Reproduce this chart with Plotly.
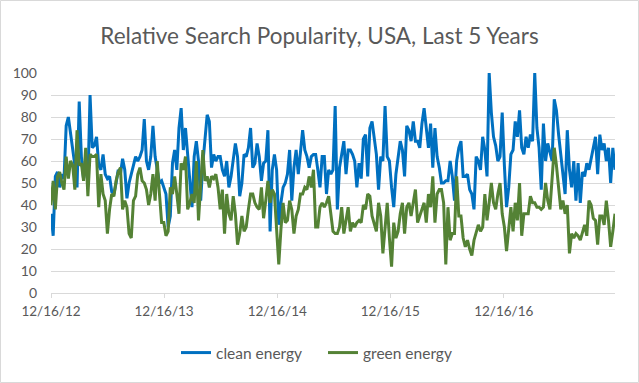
import datetime as dt
import plotly.graph_objects as go

start_date = "2012-12-16"
n_weeks = 261

clean_energy = [
    36, 26, 53, 55, 48, 54, 52, 76, 80, 73, 64, 58, 48, 87, 62, 52, 61, 50, 90, 66,
    67, 71, 58, 56, 63, 54, 52, 53, 46, 45, 50, 56, 54, 61, 56, 43, 50, 54, 59, 62,
    60, 62, 65, 79, 60, 56,
    62, 76, 62, 55, 50, 51, 48, 45, 30, 35, 59, 65, 56, 75, 84, 65, 75, 62, 50, 39,
    62, 69, 60, 42, 59, 72, 81, 78, 57, 63, 60, 62, 62, 56, 53, 60, 48, 53, 60, 68,
    62, 44, 50, 63, 62, 66, 75, 57,
    59, 68, 62, 51, 59, 60, 74, 28, 56, 63, 56, 31, 41, 48, 50, 54, 65, 42, 57, 65,
    54, 63, 74, 65, 62, 57, 62, 63, 63, 56, 48, 62, 62, 45, 56, 54, 56, 85, 38, 57,
    63, 69, 54, 65, 65, 63, 60, 48, 59,
    52, 70, 72, 53, 75, 78, 71, 63, 47, 62, 60, 85, 62, 60, 48, 39, 54,
    63, 69, 65, 53, 76, 74, 69, 78, 69, 69, 66, 77, 84, 74, 66, 77, 57, 75, 62, 57,
    50, 50, 51, 51, 60, 53, 42, 60, 66, 69,
    53, 53, 54, 47, 45, 38, 62, 60, 56, 71, 65, 53, 100, 82, 71, 67, 60, 62, 82, 58,
    39, 48, 63, 65, 78, 71, 83, 66, 63, 71, 66, 72, 69, 100, 75, 66, 47, 77, 60, 68,
    64, 60, 88, 83, 72, 62, 53, 45, 74, 56, 48, 60, 42, 59, 41, 55, 53, 59, 56, 62,
    66, 71, 54, 72, 65, 68, 60, 66, 50, 66, 56,
]

green_energy = [
    40, 51, 38, 53, 55, 50, 47, 62, 52, 60, 58, 47, 74, 58, 59, 51, 66, 44, 63, 62,
    62, 63, 39, 54, 45, 42, 27, 38, 45, 44, 51, 55, 57, 38, 42, 39, 27, 25, 42, 44,
    54, 57, 51,
    50, 47, 40, 45, 54, 42, 60, 45, 32, 32, 26, 28, 48, 45, 53, 45, 36,
    59, 56, 62, 38, 41, 45, 41, 60, 33, 48, 65, 51, 53, 48, 53, 52, 54, 48, 38, 47,
    27, 45, 36, 33, 44, 36, 22, 27, 35, 28, 30, 38,
    45, 45, 41, 39, 38, 48, 34, 42, 51, 41, 47, 45, 29, 13, 29, 41, 32, 33,
    42, 38, 27, 35, 38, 45, 45, 48, 47, 53, 48, 56, 30, 30, 39, 41, 39, 41, 44, 36,
    28, 27, 27, 30, 39, 27, 33, 39, 28, 32,
    30, 32, 33, 32, 40, 38, 45, 44, 35, 32, 28, 41, 35, 18, 30, 41, 25, 12, 32, 25,
    28, 36, 41, 27, 39, 41, 35, 42, 47, 32, 35, 38, 41, 32, 45, 39, 53, 32, 45, 47,
    47, 41, 13, 39, 24, 27, 27, 53, 35, 35,
    25, 21, 24, 20, 17, 24, 27, 31, 28, 30, 45, 33, 41, 50, 41, 38, 45, 50, 36, 30,
    19, 28, 39, 28, 41, 33, 50, 26, 36, 36, 36, 44, 41, 41, 39, 39, 38, 39, 50, 42,
    38, 52, 66, 58, 48, 38, 42, 36, 40, 18, 27, 25, 27, 26, 24, 28, 31, 26, 42, 40,
    34, 33, 22, 35, 35, 31, 42, 33, 21, 28, 36,
]

tick_dates = ["2012-12-16", "2013-12-16", "2014-12-16", "2015-12-16", "2016-12-16"]
tick_labels = ["12/16/12", "12/16/13", "12/16/14", "12/16/15", "12/16/16"]
y_ticks = list(range(0, 101, 10))

d0 = dt.date.fromisoformat(start_date)
dates = [d0 + dt.timedelta(weeks=i) for i in range(n_weeks)]

W, H = 639, 383
ML, MR, MT, MB = 51, 24, 73, 90
PW, PH = W - ML - MR, H - MT - MB

FONT = "Lato"
GRAY = "#595959"

fig = go.Figure()
fig.add_trace(go.Scatter(x=dates, y=clean_energy, mode="lines", name="clean energy",
                         line=dict(color="#0070C0", width=3)))
fig.add_trace(go.Scatter(x=dates, y=green_energy, mode="lines", name="green energy",
                         line=dict(color="#548235", width=3)))

fig.update_layout(
    width=W, height=H,
    margin=dict(l=ML, r=MR, t=MT, b=MB, autoexpand=False),
    paper_bgcolor="white", plot_bgcolor="white",
    font=dict(family=FONT, color=GRAY, size=13),
    title=dict(text="Relative Search Popularity, USA, Last 5 Years",
               x=0.5, xref="container", xanchor="center",
               y=1 - 36 / H, yref="container", yanchor="middle",
               font=dict(family=FONT, size=22.5, color=GRAY)),
    showlegend=True,
    legend=dict(orientation="h", x=176 / W, xref="container", xanchor="left",
                y=1 - 353 / H, yref="container", yanchor="middle",
                font=dict(family=FONT, size=15.5, color=GRAY),
                entrywidth=102, entrywidthmode="pixels", tracegroupgap=0),
    xaxis=dict(type="date", range=[dates[0], dates[-1]],
               tickvals=tick_dates, ticktext=tick_labels, automargin=False,
               showgrid=False, showline=True, linecolor="#d9d9d9", linewidth=1,
               ticks="outside", ticklen=4, tickcolor="#d9d9d9",
               ticklabelstandoff=2, zeroline=False,
               tickfont=dict(family=FONT, size=13.5, color=GRAY)),
    yaxis=dict(range=[0, 100], tickvals=y_ticks, showgrid=True, gridcolor="#d9d9d9",
               gridwidth=1, zeroline=False, showline=False, ticks="", automargin=False,
               ticklabelstandoff=13,
               tickfont=dict(family=FONT, size=14, color=GRAY)),
    shapes=[dict(type="rect", xref="paper", yref="paper",
                 x0=(0.5 - ML) / PW, x1=(W - 0.5 - ML) / PW,
                 y0=-(MB - 0.5) / PH, y1=(PH + MT - 0.5) / PH,
                 line=dict(color="#d9d9d9", width=1), layer="below")],
)

fig.write_html("out.html", config={"displayModeBar": False},
               post_script="document.body.style.margin='0';document.body.style.padding='0';")
